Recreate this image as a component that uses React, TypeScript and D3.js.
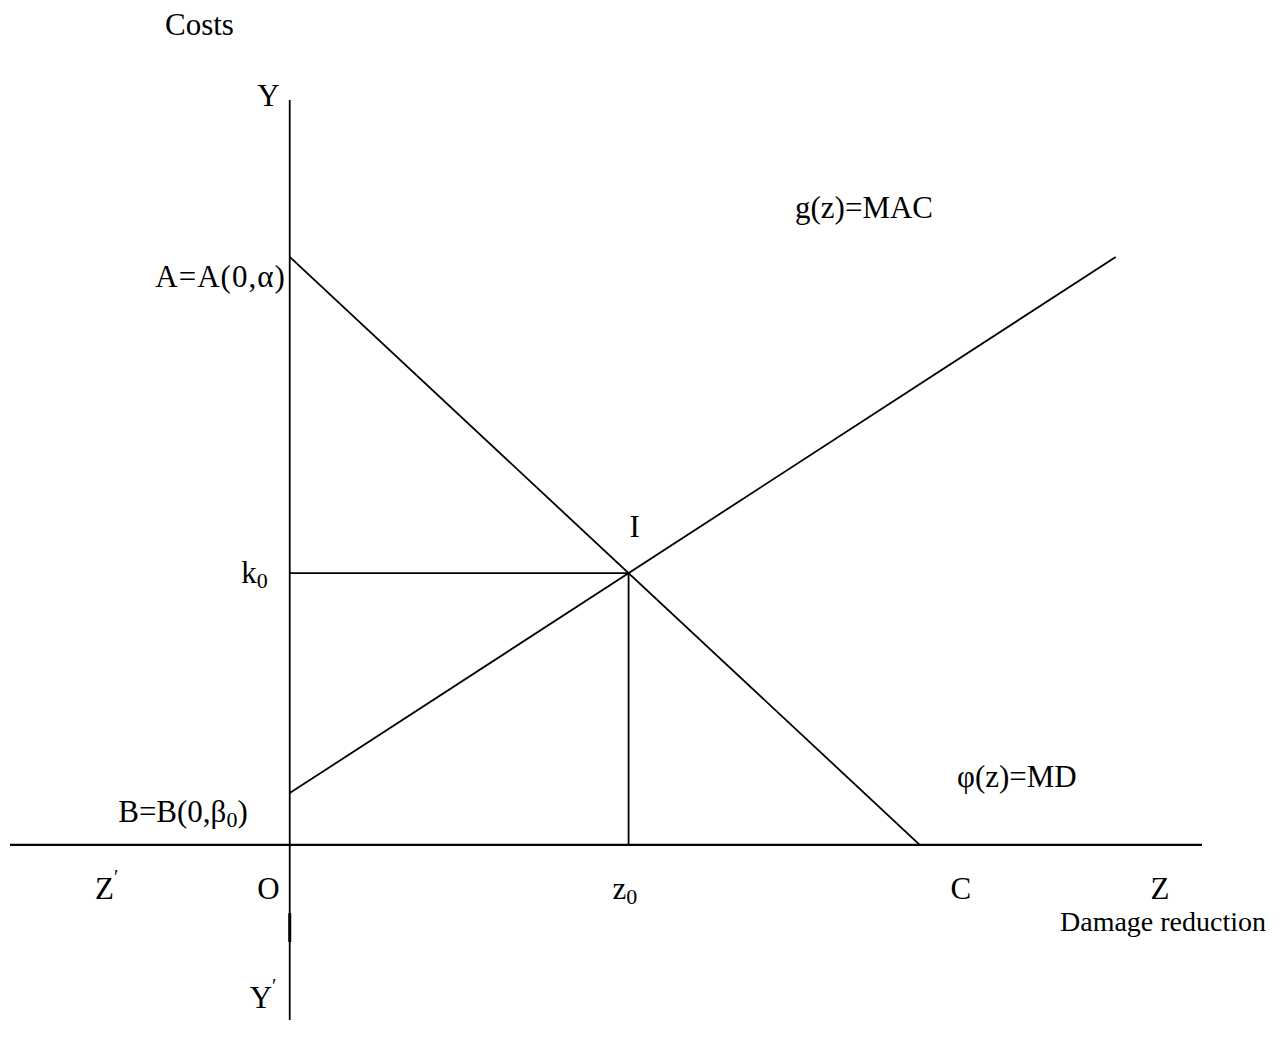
import * as d3 from 'd3';

// axis extents (model units)
const zRange = [-4.44, 14.48];
const costRange = [-2.98, 12.67];

// curves
const mdLine = [
    { z: 0, cost: 10 },
    { z: 10, cost: 0 },
];
const macLine = [
    { z: 0, cost: 0.88 },
    { z: 13.11, cost: 10 },
];

const alpha = mdLine[0].cost;
const beta0 = macLine[0].cost;
const cPoint = mdLine[1].z;

function intersect(a, b) {
    const s1 = (a[1].cost - a[0].cost) / (a[1].z - a[0].z);
    const s2 = (b[1].cost - b[0].cost) / (b[1].z - b[0].z);
    const z = (b[0].cost - a[0].cost + s1 * a[0].z - s2 * b[0].z) / (s1 - s2);
    return { z, cost: a[0].cost + s1 * (z - a[0].z) };
}

const FONT = '"Liberation Serif", "Times New Roman", serif';

export default function App() {
    const width = 1285;
    const height = 1049;

    const x = d3.scaleLinear().domain(zRange).range([10, 1202]);
    const y = d3.scaleLinear().domain(costRange).range([1020, 100]);

    const line = d3
        .line()
        .x(d => x(d.z))
        .y(d => y(d.cost));

    const I = intersect(mdLine, macLine);
    const x0 = x(0);
    const y0 = y(0);

    const sub = (t) => (
        <tspan fontSize="22" dy="5">{t}</tspan>
    );
    const prime = (
        <tspan fontSize="20" dy="-15">′</tspan>
    );

    return (
        <svg width={width} height={height} style={{ position: 'absolute', left: 0, top: 0 }}>
            <rect width={width} height={height} fill="#fff" />
            <g stroke="#000" fill="none">
                {/* axes */}
                <line x1={x(zRange[0])} x2={x(zRange[1])} y1={y0} y2={y0} strokeWidth={2.2} />
                <line x1={x0} x2={x0} y1={y(costRange[1])} y2={y(costRange[0])} strokeWidth={1.8} />
                <line x1={x0} x2={x0} y1={913} y2={942} strokeWidth={3} />
                {/* curves */}
                <path d={line(mdLine)} strokeWidth={1.8} />
                <path d={line(macLine)} strokeWidth={1.8} />
                {/* equilibrium guides */}
                <line x1={x0} x2={x(I.z)} y1={y(I.cost)} y2={y(I.cost)} strokeWidth={1.8} />
                <line x1={x(I.z)} x2={x(I.z)} y1={y(I.cost)} y2={y0} strokeWidth={1.8} />
            </g>
            <g fontFamily={FONT} fontSize="31" fill="#000">
                <text x={165} y={35}>Costs</text>
                <text x={x0 - 10} y={y(costRange[1]) + 6} textAnchor="end">Y</text>
                <text x={x0 - 4} y={y(alpha) + 30} textAnchor="end" letterSpacing="1">A=A(0,α)</text>
                <text x={795} y={218}>g(z)=MAC</text>
                <text x={x(I.z) + 6} y={y(I.cost) - 36} textAnchor="middle">I</text>
                <text x={x0 - 22} y={y(I.cost) + 10} textAnchor="end">k{sub('0')}</text>
                <text x={957} y={787}>φ(z)=MD</text>
                <text x={x0 - 42} y={y(beta0) + 29} textAnchor="end">
                    B=B(0,β{sub('0')}<tspan dy="-5">)</tspan>
                </text>
                <text x={95} y={y0 + 54}>Z{prime}</text>
                <text x={x0 - 10} y={y0 + 54} textAnchor="end">O</text>
                <text x={x(I.z) - 16} y={y0 + 54}>z{sub('0')}</text>
                <text x={x(cPoint) + 41} y={y0 + 54} textAnchor="middle">C</text>
                <text x={1160} y={y0 + 54} textAnchor="middle">Z</text>
                <text x={1060} y={y0 + 86} fontSize="28">Damage reduction</text>
                <text x={x0 - 40} y={y0 + 163}>Y{prime}</text>
            </g>
        </svg>
    );
}
